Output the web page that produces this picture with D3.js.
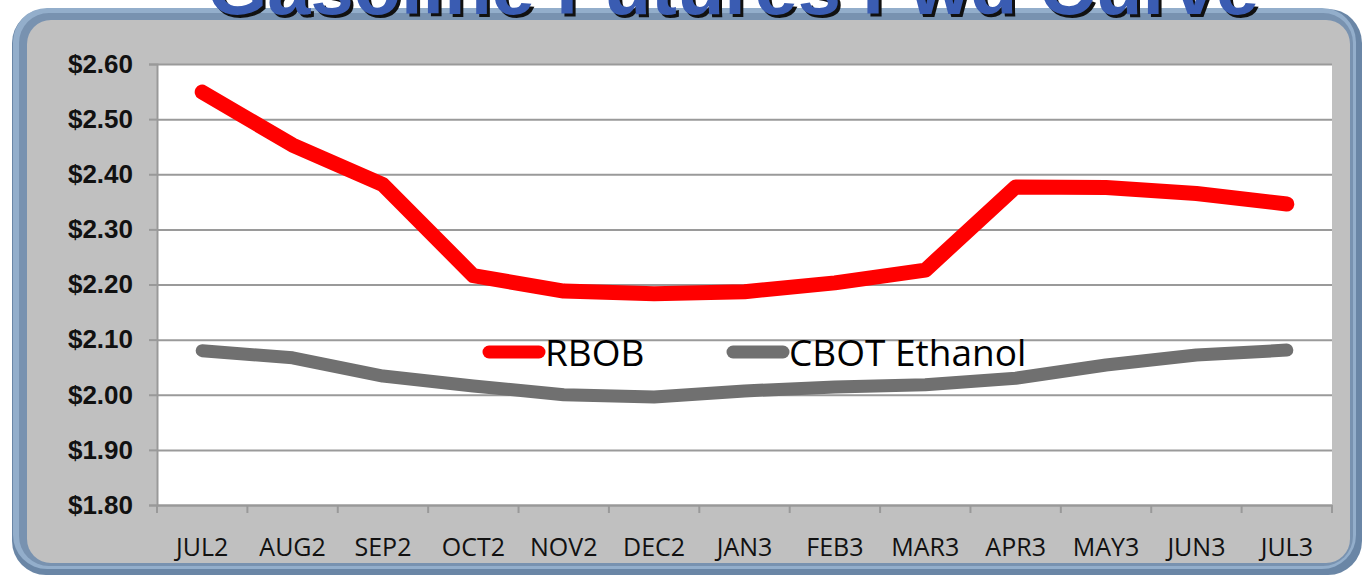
<!DOCTYPE html>
<html>
<head>
<meta charset="utf-8">
<script src="https://cdn.jsdelivr.net/npm/d3@7"></script>
<style>
  body { margin: 0; background: #fff; }
  svg { display: block; }
</style>
</head>
<body>
<div class="chart"></div>
<script>
// data
const months = ["JUL2","AUG2","SEP2","OCT2","NOV2","DEC2","JAN3","FEB3","MAR3","APR3","MAY3","JUN3","JUL3"];
const rbob = [2.549, 2.453, 2.381, 2.216, 2.188, 2.183, 2.187, 2.203, 2.226, 2.377, 2.376, 2.365, 2.346];
const ethanol = [2.080, 2.067, 2.034, 2.016, 2.000, 1.996, 2.007, 2.014, 2.018, 2.030, 2.054, 2.072, 2.081];
const yTicks = [1.80, 1.90, 2.00, 2.10, 2.20, 2.30, 2.40, 2.50, 2.60];
const seriesNames = ["RBOB", "CBOT Ethanol"];

const width = 1366, height = 580;
const margin = {top: 64, right: 34, bottom: 75, left: 157};

const svg = d3.select(".chart")
    .append("svg")
    .attr("width", width)
    .attr("height", height)
    .attr("viewBox", [0, 0, width, height]);

// frame: blue rounded border with grey panel
svg.append("rect")
    .attr("x", 12).attr("y", 9)
    .attr("width", 1350).attr("height", 566)
    .attr("rx", 34)
    .attr("fill", "#6a86a6");
svg.append("rect")
    .attr("x", 13).attr("y", 8)
    .attr("width", 1343).attr("height", 561)
    .attr("rx", 34)
    .attr("fill", "#93aecb");
svg.append("rect")
    .attr("x", 19).attr("y", 13)
    .attr("width", 1334).attr("height", 553)
    .attr("rx", 30)
    .attr("fill", "#7892b0");
svg.append("rect")
    .attr("x", 27).attr("y", 20)
    .attr("width", 1323).attr("height", 543)
    .attr("rx", 24)
    .attr("fill", "#c0c0c0");

// title, cut off at the top of the page (shadow drawn first)
const title = "Gasoline Futures Fwd Curve";
const titleLayers = [{dx: 3, dy: 3, fill: "#111"}, {dx: 0, dy: 0, fill: "#3a5cb2"}];
svg.append("g")
  .selectAll("text")
  .data(titleLayers)
  .join("text")
    .attr("x", d => 733 + d.dx)
    .attr("y", d => 14 + d.dy)
    .attr("text-anchor", "middle")
    .attr("font-family", "Liberation Sans, Arial, sans-serif")
    .attr("font-weight", "bold")
    .attr("font-size", 78)
    .attr("textLength", 1052)
    .attr("lengthAdjust", "spacingAndGlyphs")
    .attr("fill", d => d.fill)
    .text(title);

const xScale = d3.scaleBand()
    .domain(months)
    .range([margin.left, width - margin.right])
    .padding(0);
const yScale = d3.scaleLinear()
    .domain([1.80, 2.60])
    .range([height - margin.bottom, margin.top]);

// plot background
svg.append("rect")
    .attr("x", margin.left)
    .attr("y", margin.top)
    .attr("width", width - margin.right - margin.left)
    .attr("height", height - margin.bottom - margin.top)
    .attr("fill", "white");

const yAxis = g => g
    .attr("transform", `translate(${margin.left},0)`)
    .call(d3.axisLeft(yScale).tickValues(yTicks).tickFormat(d => "$" + d.toFixed(2)).tickSizeOuter(0).tickSize(8).tickPadding(16))
    .call(g => g.select(".domain").attr("stroke", "#999").attr("stroke-width", 2))
    .call(g => g.selectAll(".tick line").attr("stroke", "#999").attr("stroke-width", 2))
    .call(g => g.selectAll(".tick line").clone()
        .attr("x1", 0)
        .attr("x2", width - margin.right - margin.left)
        .attr("stroke", "#9a9a9a")
        .attr("stroke-width", 2))
    .call(g => g.selectAll(".tick text")
        .attr("font-family", "Liberation Sans, Arial, sans-serif")
        .attr("font-weight", "bold")
        .attr("font-size", 26)
        .attr("fill", "#111"));

const xAxis = g => g
    .attr("transform", `translate(0,${height - margin.bottom})`)
    .call(d3.axisBottom(xScale).tickSize(0).tickPadding(33))
    .call(g => g.select(".domain").attr("stroke", "#999").attr("stroke-width", 2))
    .call(g => g.selectAll(".tick text")
        .attr("font-family", "Open Sans, sans-serif")
        .attr("font-size", 25)
        .attr("fill", "#111"));

svg.append("g").call(yAxis);
svg.append("g").call(xAxis);

// category boundary ticks on the x axis
svg.append("g")
    .attr("stroke", "#999")
    .attr("stroke-width", 2)
  .selectAll("line")
  .data(months.concat(["end"]))
  .join("line")
    .attr("x1", (d, i) => i < months.length ? xScale(d) : xScale.range()[1])
    .attr("x2", (d, i) => i < months.length ? xScale(d) : xScale.range()[1])
    .attr("y1", height - margin.bottom)
    .attr("y2", height - margin.bottom + 8);

const line = d3.line()
    .x((d, i) => xScale(months[i]) + xScale.bandwidth() / 2)
    .y(d => yScale(d));

svg.append("path")
    .datum(ethanol)
    .attr("fill", "none")
    .attr("stroke", "#707070")
    .attr("stroke-width", 13)
    .attr("stroke-linejoin", "round")
    .attr("stroke-linecap", "round")
    .attr("d", line);

svg.append("path")
    .datum(rbob)
    .attr("fill", "none")
    .attr("stroke", "#ff0000")
    .attr("stroke-width", 15)
    .attr("stroke-linejoin", "round")
    .attr("stroke-linecap", "round")
    .attr("d", line);

// legend in the middle of the plot
const legendColors = ["#ff0000", "#707070"];
const legendX = [483, 727];
const legend = svg.append("g")
  .selectAll("g")
  .data(seriesNames)
  .join("g")
    .attr("transform", (d, i) => `translate(${legendX[i]},352)`);
legend.append("line")
    .attr("x1", 6).attr("x2", 56)
    .attr("stroke", (d, i) => legendColors[i])
    .attr("stroke-width", 13)
    .attr("stroke-linecap", "round");
legend.append("text")
    .attr("x", 62)
    .attr("y", 14)
    .attr("font-family", "Open Sans, sans-serif")
    .attr("font-size", 37)
    .attr("fill", "#000")
    .text(d => d);
</script>
</body>
</html>
